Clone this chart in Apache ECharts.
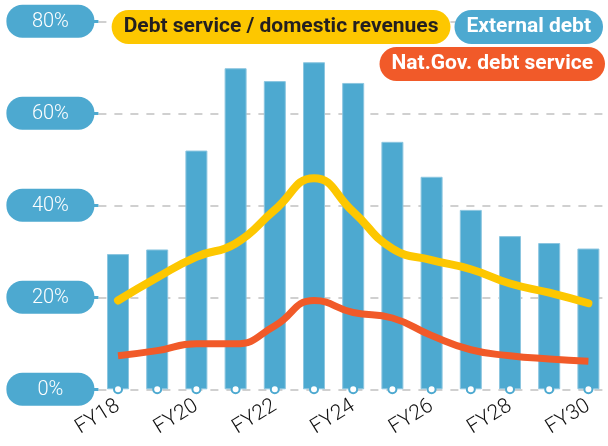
<!DOCTYPE html>
<html>
<head>
<meta charset="utf-8">
<script src="https://cdn.jsdelivr.net/npm/echarts@6/dist/echarts.min.js"></script>
<style>
  html, body { margin: 0; padding: 0; background: #fff; }
  #chart { width: 608px; height: 446px; }
</style>
</head>
<body>
<div id="chart"></div>
<script>
// fiscal years
const categories = ['FY18', 'FY19', 'FY20', 'FY21', 'FY22', 'FY23', 'FY24', 'FY25', 'FY26', 'FY27', 'FY28', 'FY29', 'FY30']

// % values
const externalDebt = [29.4, 30.4, 51.9, 69.8, 67.0, 71.1, 66.6, 53.8, 46.2, 39.0, 33.3, 31.8, 30.6]
const debtServiceRevenues = [19.3, 24.3, 28.8, 31.7, 39.0, 45.9, 38.6, 30.6, 28.1, 26.1, 23.0, 21.0, 18.7]
const natGovDebtService = [7.3, 8.4, 9.9, 9.9, 13.8, 19.3, 16.7, 15.5, 11.7, 8.6, 7.3, 6.6, 6.1]
const axisDots = [0, 0, 0, 0, 0, 0, 0, 0, 0, 0, 0, 0, 0]

const yTicks = [0, 20, 40, 60, 80]

const BLUE = '#4da9d0'
const YELLOW = '#fdc700'
const ORANGE = '#f15a29'
const legendFont = 'Roboto, sans-serif'
const thinFont = 'Roboto, sans-serif'

const chart = echarts.init(document.getElementById('chart'))

const pill = (bg, color) => ({
  backgroundColor: bg,
  color,
  borderRadius: 17,
  padding: [7, 12, 7, 12],
  fontFamily: legendFont,
  fontWeight: 'bold',
  fontSize: 21,
  lineHeight: 20,
})

const option = {
  animation: false,
  grid: {
    left: 98.4,
    right: -9,
    top: 21.3,
    bottom: 56.7,
    containLabel: false,
  },
  legend: [
    {
      top: 5,
      right: 0,
      itemWidth: 0,
      itemHeight: 0,
      itemGap: -1,
      icon: 'none',
      selectedMode: false,
      data: [
        {name: 'Debt service / domestic revenues', textStyle: pill(YELLOW, '#231f20')},
        {name: 'External debt', textStyle: pill(BLUE, '#fff')},
      ],
    },
    {
      top: 42,
      right: -2,
      itemWidth: 0,
      itemHeight: 0,
      icon: 'none',
      selectedMode: false,
      data: [
        {name: 'Nat.Gov. debt service', textStyle: pill(ORANGE, '#fff')},
      ],
    },
  ],
  xAxis: {
    type: 'category',
    data: categories,
    boundaryGap: true,
    axisLine: {show: false},
    axisTick: {show: false},
    axisLabel: {
      interval: 1,
      rotate: 32,
      margin: 15,
      color: '#111',
      fontFamily: thinFont,
      fontWeight: 300,
      fontSize: 21,
    },
  },
  yAxis: {
    type: 'value',
    min: yTicks[0],
    max: yTicks[yTicks.length - 1],
    interval: 20,
    axisLine: {show: false},
    axisTick: {
      show: true,
      length: 5,
      lineStyle: {color: BLUE, width: 3},
    },
    splitLine: {
      show: true,
      lineStyle: {color: '#d0d0d0', width: 2, type: [8, 8]},
    },
    axisLabel: {
      margin: 4,
      formatter: v => '{p|' + v + '%}',
      rich: {
        p: {
          color: '#fff',
          backgroundColor: BLUE,
          borderRadius: 16,
          width: 88,
          height: 20,
          align: 'center',
          padding: [7, 0, 6, 0],
          lineHeight: 20,
          fontFamily: thinFont,
          fontWeight: 300,
          fontSize: 20,
        },
      },
    },
  },
  series: [
    {
      name: 'External debt',
      type: 'bar',
      data: externalDebt,
      barWidth: 22,
      itemStyle: {color: BLUE, borderColor: '#8cc6e0', borderWidth: 1},
      z: 2,
    },
    {
      name: 'Debt service / domestic revenues',
      type: 'line',
      data: debtServiceRevenues,
      smooth: 0.5,
      showSymbol: false,
      lineStyle: {color: YELLOW, width: 8, cap: 'round'},
      itemStyle: {color: YELLOW},
      z: 4,
    },
    {
      name: 'Nat.Gov. debt service',
      type: 'line',
      data: natGovDebtService,
      smooth: 0.5,
      showSymbol: false,
      lineStyle: {color: ORANGE, width: 7, cap: 'butt'},
      itemStyle: {color: ORANGE},
      z: 3,
    },
    {
      name: 'dots',
      type: 'scatter',
      data: axisDots,
      symbol: 'circle',
      symbolSize: 8,
      itemStyle: {color: '#fff', borderColor: BLUE, borderWidth: 2, opacity: 1},
      silent: true,
      z: 5,
    },
  ],
}

chart.setOption(option)
</script>
</body>
</html>
